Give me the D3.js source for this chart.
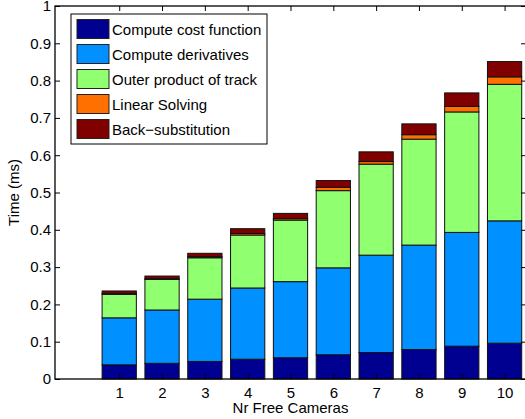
<!DOCTYPE html>
<html>
<head>
<meta charset="utf-8">
<script src="https://cdn.jsdelivr.net/npm/d3@7"></script>
<style>
  body { margin: 0; background: #fff; }
  text { font-family: "Liberation Sans", Arial, sans-serif; fill: #000; }
</style>
</head>
<body>
<svg width="525" height="419"></svg>
<script>
const WIDTH = 525;
const HEIGHT = 419;

const cameras = [1, 2, 3, 4, 5, 6, 7, 8, 9, 10];
const phases = ["Compute cost function", "Compute derivatives", "Outer product of track", "Linear Solving", "Back\u2212substitution"];
const phaseColors = ["#000090", "#0090ff", "#90ff70", "#ff7000", "#800000"];

const costFunction = [0.038, 0.042, 0.047, 0.053, 0.057, 0.065, 0.071, 0.079, 0.088, 0.096];
const derivatives = [0.126, 0.143, 0.167, 0.191, 0.204, 0.233, 0.261, 0.280, 0.305, 0.328];
const outerProduct = [0.063, 0.082, 0.111, 0.142, 0.165, 0.207, 0.244, 0.284, 0.323, 0.366];
const linearSolving = [0.002, 0.002, 0.003, 0.004, 0.004, 0.009, 0.007, 0.012, 0.015, 0.020];
const backSubst = [0.007, 0.007, 0.009, 0.013, 0.014, 0.018, 0.026, 0.029, 0.036, 0.041];

const yTicks = [0, 0.1, 0.2, 0.3, 0.4, 0.5, 0.6, 0.7, 0.8, 0.9, 1];

const seriesValues = [costFunction, derivatives, outerProduct, linearSolving, backSubst];
const rows = cameras.map((c, i) => {
  const r = { camera: c };
  phases.forEach((p, j) => { r[p] = seriesValues[j][i]; });
  return r;
});

const margin = { left: 55, right: 526, top: 6, bottom: 379 };

const x = d3.scaleLinear().domain([-0.5, 10.5]).range([margin.left, margin.right]);
const y = d3.scaleLinear().domain([0, 1]).range([margin.bottom, margin.top]);
const barW = x(0.8) - x(0);

const svg = d3.select("svg");

const stacked = d3.stack().keys(phases)(rows);

svg.append("g")
  .selectAll("g")
  .data(stacked)
  .enter()
  .append("g")
  .attr("fill", (d, i) => phaseColors[i])
  .selectAll("rect")
  .data((d) => d)
  .enter()
  .append("rect")
  .attr("x", (d) => x(d.data.camera) - barW / 2)
  .attr("width", barW)
  .attr("y", (d) => y(d[1]))
  .attr("height", (d) => y(d[0]) - y(d[1]))
  .attr("stroke", "#111")
  .attr("stroke-width", 1);

// axes box
svg.append("rect")
  .attr("x", margin.left)
  .attr("y", margin.top)
  .attr("width", margin.right - margin.left)
  .attr("height", margin.bottom - margin.top)
  .attr("fill", "none")
  .attr("stroke", "#000")
  .attr("stroke-width", 1.3);

const yAxisL = d3.axisLeft(y).tickValues(yTicks).tickSizeInner(-5).tickSizeOuter(0).tickPadding(4).tickFormat(d3.format("~g"));
const yAxisR = d3.axisRight(y).tickValues(yTicks).tickSizeInner(-5).tickSizeOuter(0).tickFormat("");
const xAxisB = d3.axisBottom(x).tickValues(cameras).tickSizeInner(-5).tickSizeOuter(0).tickPadding(8);
const xAxisT = d3.axisTop(x).tickValues(cameras).tickSizeInner(-5).tickSizeOuter(0).tickFormat("");

[
  svg.append("g").attr("transform", `translate(${margin.left},0)`).call(yAxisL),
  svg.append("g").attr("transform", `translate(${margin.right},0)`).call(yAxisR),
  svg.append("g").attr("transform", `translate(0,${margin.bottom})`).call(xAxisB),
  svg.append("g").attr("transform", `translate(0,${margin.top})`).call(xAxisT)
].forEach((g) => {
  g.select(".domain").remove();
  g.selectAll("line").attr("stroke", "#000");
  g.selectAll("text").style("font-size", "15px").attr("fill", "#000")
    .style("font-family", "'Liberation Sans', Arial, sans-serif");
});

svg.append("text")
  .attr("x", (margin.left + margin.right) / 2)
  .attr("y", 413)
  .attr("text-anchor", "middle")
  .style("font-size", "15px")
  .text("Nr Free Cameras");

svg.append("text")
  .attr("transform", `translate(19,${(margin.top + margin.bottom) / 2}) rotate(-90)`)
  .attr("text-anchor", "middle")
  .style("font-size", "15px")
  .text("Time (ms)");

// legend
const legend = svg.append("g").attr("transform", "translate(71,14)");
legend.append("rect")
  .attr("width", 196)
  .attr("height", 130)
  .attr("fill", "#fff")
  .attr("stroke", "#000")
  .attr("stroke-width", 1);

const items = legend.selectAll(".item")
  .data(phases)
  .enter()
  .append("g")
  .attr("transform", (d, i) => `translate(6,${5.5 + i * 25})`);

items.append("rect")
  .attr("width", 32)
  .attr("height", 19)
  .attr("fill", (d, i) => phaseColors[i])
  .attr("stroke", "#222");

items.append("text")
  .attr("x", 35)
  .attr("y", 15)
  .style("font-size", "15px")
  .text((d) => d);
</script>
</body>
</html>
